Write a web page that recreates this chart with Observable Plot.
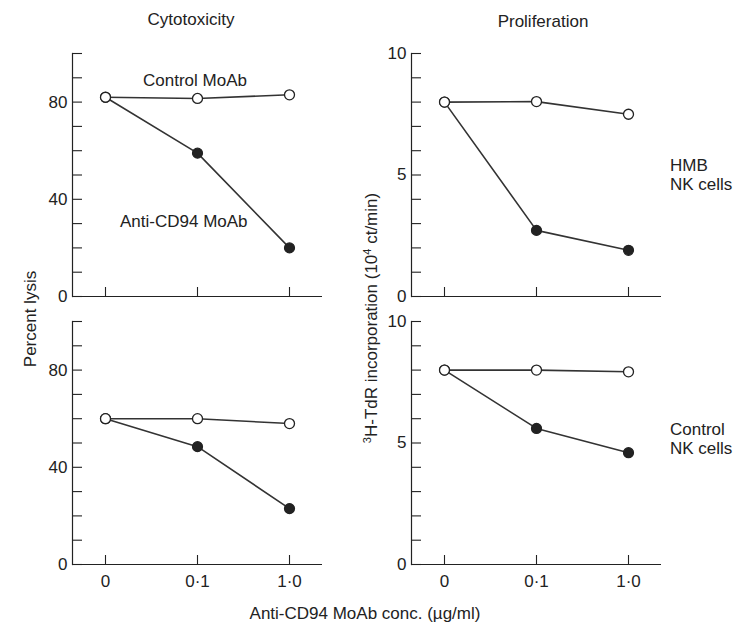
<!DOCTYPE html>
<html><head><meta charset="utf-8">
<script src="https://cdn.jsdelivr.net/npm/d3@7"></script>
<script src="https://cdn.jsdelivr.net/npm/@observablehq/plot@0.6"></script>
<style>
body{margin:0;background:#fff;font-family:"Liberation Sans",Arial,sans-serif;color:#222}
#wrap{position:relative;width:745px;height:635px;overflow:hidden;background:#fff}
.lbl{position:absolute;font-size:17px;white-space:nowrap;line-height:1;transform:translate(-50%,-50%)}
.left{transform:translate(0,-50%)}
.rot{transform:translate(-50%,-50%) rotate(-90deg)}
.panel{position:absolute}
sup{font-size:11px;vertical-align:6px;line-height:0}
</style></head><body><div id="wrap">
<div class="lbl" style="left:191px;top:19px">Cytotoxicity</div>
<div class="lbl" style="left:543px;top:21px">Proliferation</div>
<div class="lbl left" style="left:143px;top:80px">Control MoAb</div>
<div class="lbl left" style="left:120px;top:221px">Anti-CD94 MoAb</div>
<div class="lbl left" style="left:670px;top:165px">HMB</div>
<div class="lbl left" style="left:670px;top:184px">NK cells</div>
<div class="lbl left" style="left:670px;top:429px">Control</div>
<div class="lbl left" style="left:670px;top:448px">NK cells</div>
<div class="lbl rot" style="left:30px;top:319px">Percent lysis</div>
<div class="lbl rot" style="left:371px;top:318px"><sup>3</sup>H-TdR incorporation (10<sup>4</sup> ct/min)</div>
<div class="lbl" style="left:365px;top:613px">Anti-CD94 MoAb conc. (µg/ml)</div>
</div>
<script>
// Doses (x categories)
const doses = ["0", "0·1", "1·0"];
// Cytotoxicity (percent lysis)
const lysisHmbControl = [82, 81.5, 83];
const lysisHmbAnti = [82, 59, 20];
const lysisCtrlControl = [60, 60, 58];
const lysisCtrlAnti = [60, 48.5, 23];
// Proliferation (3H-TdR incorporation, 10^4 ct/min)
const prolHmbControl = [8, 8.02, 7.5];
const prolHmbAnti = [8, 2.72, 1.9];
const prolCtrlControl = [8, 8, 7.93];
const prolCtrlAnti = [8, 5.6, 4.6];
// Ticks
const lysisMinorTicks = [0, 10, 20, 30, 40, 50, 60, 70, 80, 90, 100];
const lysisLabelTicks = [0, 40, 80];
const prolMinorTicks = [0, 1, 2, 3, 4, 5, 6, 7, 8, 9, 10];
const prolLabelTicks = [0, 5, 10];

const ink = "#222";
function rows(vals) { return doses.map((d, i) => ({dose: d, value: vals[i]})); }

function panel({control, anti, yMax, minor, labels, showX, left, top, marginTop, marginBottom}) {
  const marginLeft = 72, marginRight = 12;
  const c = rows(control), a = rows(anti);
  const plot = Plot.plot({
    width: marginLeft + 250 + marginRight,
    height: marginTop + 243 + marginBottom,
    marginLeft, marginRight, marginTop, marginBottom,
    x: {type: "point", domain: doses, padding: 0.35},
    y: {domain: [0, yMax]},
    style: {fontSize: "17px", fontFamily: "Liberation Sans, Arial, sans-serif", color: ink, background: "transparent", overflow: "visible"},
    marks: [
      Plot.ruleY([0], {stroke: ink, strokeWidth: 1.2}),
      Plot.frame({anchor: "left", stroke: ink, strokeWidth: 1.2}),
      Plot.axisY({ticks: minor, tickSize: -10, fill: "none", label: null, stroke: ink, strokeWidth: 1.1}),
      Plot.axisY({ticks: labels, tickSize: 0, tickPadding: 5, label: null, fill: ink}),
      Plot.axisX({tickSize: -9, tickPadding: 19, label: null, stroke: ink, strokeWidth: 1.1, fill: showX ? ink : "none"}),
      Plot.line(c, {x: "dose", y: "value", stroke: "#333", strokeWidth: 1.6}),
      Plot.line(a, {x: "dose", y: "value", stroke: "#333", strokeWidth: 1.6}),
      Plot.dot(a, {x: "dose", y: "value", r: 5, fill: ink, stroke: ink, strokeWidth: 1.2}),
      Plot.dot(c, {x: "dose", y: "value", r: 5, fill: "white", stroke: ink, strokeWidth: 1.3})
    ]
  });
  const div = document.createElement("div");
  div.className = "panel";
  div.style.left = left + "px";
  div.style.top = top + "px";
  div.appendChild(plot);
  document.getElementById("wrap").appendChild(div);
}

panel({control: lysisHmbControl, anti: lysisHmbAnti, yMax: 100, minor: lysisMinorTicks, labels: lysisLabelTicks, showX: false, left: 0, top: 40, marginTop: 13, marginBottom: 14});
panel({control: prolHmbControl, anti: prolHmbAnti, yMax: 10, minor: prolMinorTicks, labels: prolLabelTicks, showX: false, left: 339, top: 40, marginTop: 13, marginBottom: 14});
panel({control: lysisCtrlControl, anti: lysisCtrlAnti, yMax: 100, minor: lysisMinorTicks, labels: lysisLabelTicks, showX: true, left: 0, top: 300, marginTop: 21, marginBottom: 40});
panel({control: prolCtrlControl, anti: prolCtrlAnti, yMax: 10, minor: prolMinorTicks, labels: prolLabelTicks, showX: true, left: 339, top: 300, marginTop: 21, marginBottom: 40});
</script>
</body></html>
